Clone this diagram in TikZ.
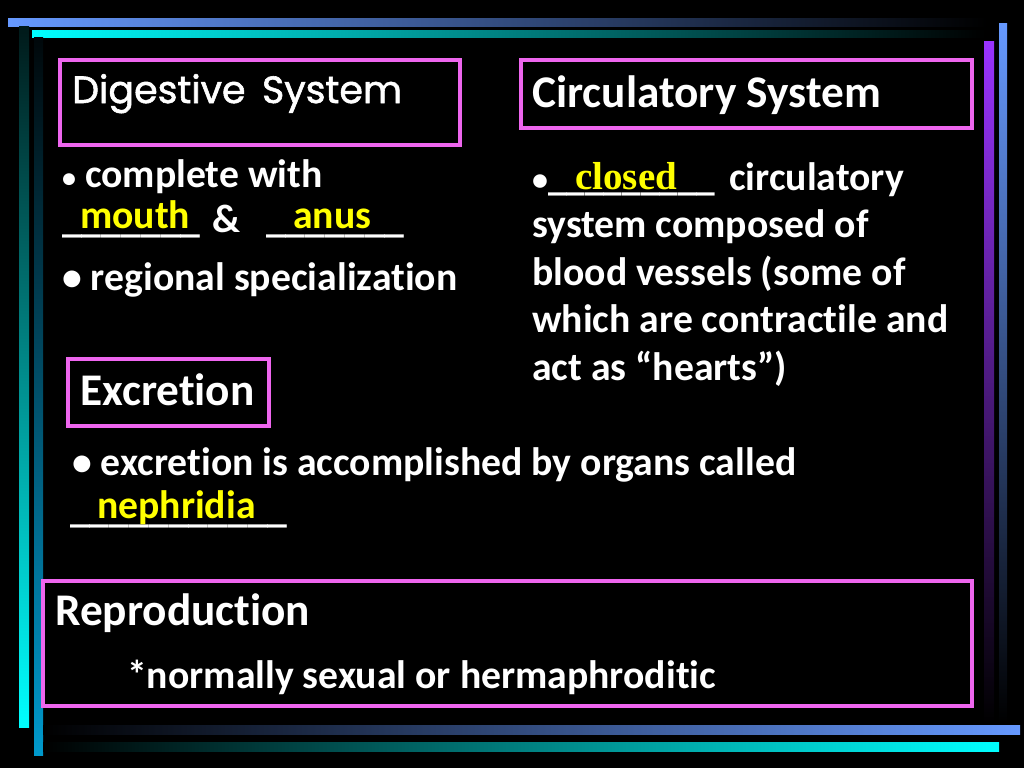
\documentclass[tikz,border=0pt]{standalone}
\usepackage{fontspec}
\setmainfont{Carlito}[Ligatures=NoCommon]
\newfontfamily\timesfont{Liberation Serif}
\newfontfamily\comicfont{Poppins}[FakeBold=1.5]
\definecolor{barblue}{RGB}{102,153,255}
\definecolor{barcyan}{RGB}{0,255,255}
\definecolor{barteal}{RGB}{0,153,204}
\definecolor{barpurple}{RGB}{153,51,255}
\definecolor{boxpink}{RGB}{238,102,238}
\definecolor{fillyellow}{RGB}{255,255,0}
\newcommand{\bodysize}{\fontsize{39.7}{48}\selectfont\bfseries}
\newcommand{\titlesize}{\fontsize{45.3}{54}\selectfont\bfseries}

\begin{document}
\begin{tikzpicture}[x=1pt, y=-1pt,
  body/.style = {font=\bodysize, text=white, inner sep=0pt, anchor=base west},
  answer/.style = {font=\bodysize, text=fillyellow, inner sep=0pt, anchor=base west},
  heading/.style = {font=\titlesize, text=white, inner sep=0pt, anchor=base west},
  frame/.style = {draw=boxpink, line width=4pt}]
\useasboundingbox (0,0) rectangle (1024,768);
\fill[black] (0,0) rectangle (1024,768);

% decorative bars
\shade[left color=barblue, middle color=barblue!80!black, right color=black] (8,19) rectangle (987,27);
\shade[left color=barcyan, middle color=barcyan!75!black, right color=black] (32,31) rectangle (985,38);
\shade[top color=barcyan!10!black, bottom color=barcyan] (19,27) rectangle (29,727);
\shade[top color=barteal!5!black, bottom color=barteal] (34,38) rectangle (43,755);
\shade[left color=black, right color=barblue] (43,725) rectangle (1020,734);
\shade[left color=black, right color=barcyan] (43,742) rectangle (999,751);
\shade[top color=barpurple, middle color=barpurple!70!black, bottom color=black] (984,42) rectangle (994,723);
\shade[top color=barblue, bottom color=black] (999,24) rectangle (1007,723);

% boxes
\draw[frame] (60,60) rectangle (460,145);
\draw[frame] (521,60) rectangle (972,128);
\draw[frame] (68,359) rectangle (269,426);
\draw[frame] (43,581) rectangle (972,706);

% digestive system
\node[heading, font=\fontsize{38}{44}\selectfont\comicfont] (digtitle) at (72,103) {Digestive\, System};
\node[body] (dig1) at (62,187) {{\fontsize{28}{30}\selectfont •} complete with};
\node[body] (gap1) at (62,232) {\_\_\_\_\_\_\_};
\node[body] (amp) at (212,232) {\&};
\node[body] (gap2) at (266,232) {\_\_\_\_\_\_\_};
\node[answer] (mouth) at (80,228) {mouth};
\node[answer] (anus) at (293,228) {anus};
\node[body] (dig2) at (62,290) {• regional specialization};

% circulatory system
\node[heading] (circtitle) at (532,107) {Circulatory System};
\node[body, font=\fontsize{32}{40}\selectfont\bfseries] (bullet) at (532,190) {•};
\node[body, xscale=0.94] (gap4) at (548,190) {\_\_\_\_\_\_\_\_\_};
\node[body] (circ1) at (729,190) {circulatory};
\foreach \txt [count=\i from 2] in {system composed of,
    blood vessels (some of, which are contractile and, act as “hearts”)}
  \node[body] (circ\i) at (532,{190+47.5*(\i-1)}) {\txt};
\node[answer, font=\fontsize{39}{44}\selectfont\bfseries\timesfont] (closed) at (575,189) {closed};

% excretion
\node[heading] (exctitle) at (80,405) {Excretion};
\node[body] (exc1) at (72,475) {• excretion is accomplished by organs called};
\node[body] (gap3) at (70,522) {\_\_\_\_\_\_\_\_\_\_\_};
\node[answer] (nephridia) at (97,518) {nephridia};

% reproduction
\node[heading] (reptitle) at (55,625) {Reproduction};
\node[body] (rep1) at (127,688) {*normally sexual or hermaphroditic};
\end{tikzpicture}
\end{document}
